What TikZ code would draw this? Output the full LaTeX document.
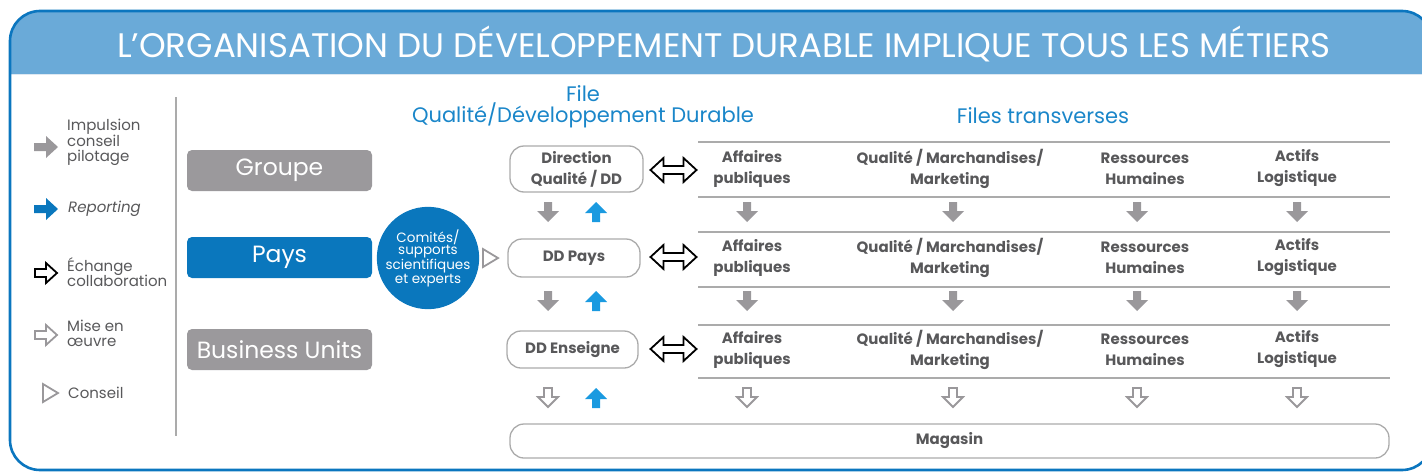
\documentclass[tikz,border=0pt]{standalone}
\usepackage{fontspec}
\setmainfont{Poppins}
\usetikzlibrary{calc}

\definecolor{frameblue}{HTML}{0B76BF}
\definecolor{bandblue}{HTML}{6AAAD8}
\definecolor{bandline}{HTML}{DDE8F2}
\definecolor{boxgray}{HTML}{9B999C}
\definecolor{paysblue}{HTML}{0A77BD}
\definecolor{headblue}{HTML}{1A86C9}
\definecolor{upblue}{HTML}{1A9AE0}
\definecolor{txtgray}{HTML}{58585A}
\definecolor{rulegray}{HTML}{ABABAB}
\definecolor{arrowgray}{HTML}{9A989B}

\tikzset{
  legendtxt/.style={anchor=west, inner sep=0pt, align=left, text=txtgray,
    font=\fontsize{15}{15.5}\selectfont},
  lvlbox/.style={rounded corners=5pt, minimum width=185pt, minimum height=41pt,
    inner sep=0pt, text=white, font=\fontsize{23.5}{23.5}\selectfont},
  headtxt/.style={align=center, inner sep=0pt, text=headblue,
    font=\fontsize{21}{19}\selectfont},
  ddbox/.style={draw=rulegray, line width=1.3pt, rounded corners=14pt, inner sep=0pt,
    align=center, text=txtgray, font=\bfseries\fontsize{15}{21}\selectfont},
  rowtxt/.style={align=center, inner sep=0pt, text=txtgray,
    font=\bfseries\fontsize{15}{21}\selectfont},
  rulestyle/.style={draw=rulegray, line width=1.3pt},
  pics/dnfill/.style={code={
    \fill[arrowgray] (-4,-10)--(4,-10)--(4,-1)--(11,-1)--(0,10)--(-11,-1)--(-4,-1)--cycle;}},
  pics/dnopen/.style={code={
    \draw[arrowgray, line width=1.8pt, line join=miter, fill=white]
      (-4,-10)--(4,-10)--(4,-1)--(10,-1)--(0,9)--(-10,-1)--(-4,-1)--cycle;}},
  pics/upfill/.style={code={
    \fill[upblue] (-4,10)--(4,10)--(4,1)--(11,1)--(0,-10)--(-11,1)--(-4,1)--cycle;}},
  pics/rfill/.style={code={
    \fill[#1] (-12,-4)--(0,-4)--(0,-11)--(12,0)--(0,11)--(0,4)--(-12,4)--cycle;}},
  pics/ropen/.style={code={
    \draw[#1, line width=1.8pt, line join=miter, fill=white]
      (-11,-4)--(0,-4)--(0,-10)--(11,0)--(0,10)--(0,4)--(-11,4)--cycle;}},
  pics/dblarrow/.style={code={
    \draw[black, line width=1.8pt, line join=miter, fill=white]
      (-23,0)--(-10,-12)--(-10,-4)--(10,-4)--(10,-12)--(23,0)--(10,12)--(10,4)
      --(-10,4)--(-10,12)--cycle;}},
  pics/triopen/.style={code={
    \draw[arrowgray, line width=1.8pt, line join=miter] (-7,-9)--(8,0)--(-7,9)--cycle;}},
}

\begin{document}
\begin{tikzpicture}[x=1pt, y=-1pt]
\useasboundingbox (0,0) rectangle (1422,474);

% outer frame with its title band
\begin{scope}
  \clip[rounded corners=30pt] (10,11) rectangle (1432,470);
  \fill[bandblue] (0,0) rectangle (1440,74);
  \draw[bandline, line width=1pt] (0,74.5) -- (1440,74.5);
\end{scope}
\draw[frameblue, line width=2.6pt, rounded corners=30pt] (10,11) rectangle (1432,470);

\node[text=white, inner sep=0pt, font=\fontsize{34}{34}\selectfont] (title) at (724,44)
  {L’ORGANISATION DU DÉVELOPPEMENT DURABLE IMPLIQUE TOUS LES MÉTIERS};

% legend
\draw[rulegray, line width=1.5pt] (176,97) -- (176,436);
\pic at (46,147) {rfill=arrowgray};
\node[legendtxt] (lgimp) at (67,142.5) {Impulsion\\conseil\\pilotage};
\pic at (46,209) {rfill=paysblue};
\node[legendtxt, font=\itshape\fontsize{15}{15.5}\selectfont] (lgrep) at (68,209) {Reporting};
\pic at (46,273) {ropen=black};
\node[legendtxt] (lgech) at (67,272) {Échange\\collaboration};
\pic at (46,335) {ropen=arrowgray};
\node[legendtxt] (lgmise) at (67,333.5) {Mise en\\œuvre};
\pic at (50,393) {triopen};
\node[legendtxt] (lgcons) at (68,393) {Conseil};

% levels
\node[lvlbox, fill=boxgray] (groupe) at (279.5,170.5) {Groupe};
\node[lvlbox, fill=paysblue] (pays) at (279.5,257.5) {Pays};
\node[lvlbox, fill=boxgray] (bu) at (279.5,349.5) {Business Units};

\node[circle, fill=paysblue, minimum size=98pt, inner sep=0pt, text=white, align=center,
  font=\fontsize{13.5}{11.5}\selectfont] (comites) at (428,258)
  {Comités/\\supports\\scientifiques\\et experts};
\pic at (490,258) {triopen};

% column headers
\node[headtxt] (hfile) at (583,106.5) {File\\Qualité/Développement Durable};
\node[headtxt] (htrans) at (1043,115.5) {Files transverses};

% quality / sustainable development line
\node[ddbox, minimum width=133pt, minimum height=46pt] (dq) at (576.5,169) {Direction\\Qualité / DD};
\node[ddbox, minimum width=132pt, minimum height=38pt] (ddp) at (574,258) {DD Pays};
\node[ddbox, minimum width=131pt, minimum height=37pt] (dde) at (572.5,349.5) {DD Enseigne};
\node[ddbox, minimum width=879pt, minimum height=34pt] (mag) at (949.5,441) {Magasin};

\pic at (673.5,170) {dblarrow};
\pic at (673.5,257) {dblarrow};
\pic at (673.5,349) {dblarrow};

% transverse lines
\foreach \y in {142,197,232,287,325,378}
  \draw[rulestyle] (698,\y) -- (1390,\y);

\foreach \r/\y in {1/168.5, 2/257.5, 3/349.5} {
  \node[rowtxt] (ap\r) at (752,\y) {Affaires\\publiques};
  \node[rowtxt] (qm\r) at (950,\y) {Qualité / Marchandises/\\Marketing};
  \node[rowtxt] (rh\r) at (1145,\y) {Ressources\\Humaines};
  \node[rowtxt] (al\r) at (1297,\y) {Actifs\\Logistique};
}

% flow arrows between levels
\foreach \y in {212,301} {
  \foreach \x in {548,747,953,1137,1297}
    \pic at (\x,\y) {dnfill};
  \pic at (596,\y) {upfill};
}
\foreach \x in {548,747,953,1137,1297}
  \pic at (\x,398) {dnopen};
\pic at (596,398) {upfill};

\end{tikzpicture}
\end{document}
